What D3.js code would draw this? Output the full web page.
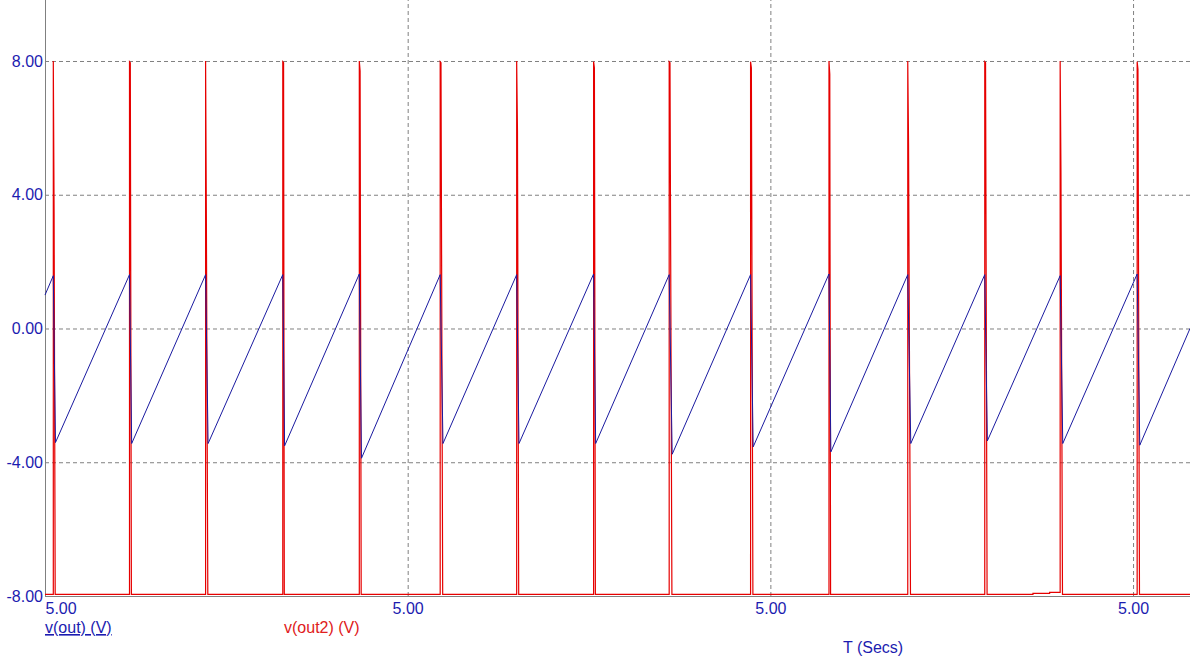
<!DOCTYPE html>
<html>
<head>
<meta charset="utf-8">
<script src="https://cdn.jsdelivr.net/npm/d3@7"></script>
<style>
  body { margin: 0; background: #fff; }
  svg { display: block; font-family: "Liberation Sans", Arial, sans-serif; }
</style>
</head>
<body>
<svg id="chart"></svg>
<script>
// axis ticks
var xTicks = [5.000, 5.001, 5.002, 5.003];
var yTicks = [-8, -4, 0, 4, 8];

// v(out) : sawtooth, top of each ramp then the restart point
var rampStart = [5.0, 1.0];
var rampTopT = [5.0000229, 5.0002330, 5.0004428, 5.0006556, 5.0008666, 5.0010896, 5.0013005, 5.0015126,
                5.0017210, 5.0019454, 5.0021616, 5.0023788, 5.0025911, 5.0027990, 5.0030113];
var rampTopV = [1.58, 1.61, 1.61, 1.61, 1.63, 1.61, 1.61, 1.63, 1.61, 1.61, 1.63, 1.61, 1.61, 1.58, 1.63];
var rampLowT = [5.0000289, 5.0002390, 5.0004497, 5.0006606, 5.0008726, 5.0010973, 5.0013069, 5.0015183,
                5.0017293, 5.0019526, 5.0021668, 5.0023871, 5.0025983, 5.0028062, 5.0030185];
var rampLowV = [-3.41, -3.44, -3.44, -3.51, -3.88, -3.44, -3.44, -3.44, -3.76, -3.54, -3.69, -3.44, -3.36, -3.44, -3.49];
var rampEnd = [5.003157, 0.0];

// v(out2) : narrow pulses from the low rail
var base = -7.95;
var spikeRise = [5.0000229, 5.0002330, 5.0004428, 5.0006556, 5.0008666, 5.0010896, 5.0013005, 5.0015126,
                 5.0017210, 5.0019454, 5.0021616, 5.0023788, 5.0025911, 5.0027990, 5.0030113];
var spikePeak = [8.0, 7.98, 8.0, 7.98, 8.0, 7.98, 8.0, 7.98, 7.98, 7.98, 8.0, 8.0, 7.98, 8.0, 7.98];
var spikeKnee = [5.0000251, 5.0002352, 5.0004450, 5.0006578, 5.0008688, 5.0010918, 5.0013027, 5.0015148,
                 5.0017232, 5.0019476, 5.0021638, 5.0023810, 5.0025933, 5.0028012, 5.0030135];
var spikeMid = [3.43, 7.95, 3.1, 7.95, 7.7, 7.95, 5.9, 7.8, 7.95, 7.8, 7.6, 5.5, 7.95, 4.66, 7.75];
var spikeFall = [5.0000281, 5.0002382, 5.0004489, 5.0006598, 5.0008718, 5.0010965, 5.0013061, 5.0015175,
                 5.0017285, 5.0019518, 5.0021660, 5.0023863, 5.0025975, 5.0028054, 5.0030177];
// small creep of the rail before the 14th pulse
var railStepT = [5.002724, 5.002724, 5.002770, 5.002770];
var railStepV = [-7.95, -7.92, -7.92, -7.89];

var width = 1190, height = 664;
var plotLeft = 45, plotRight = 1190, plotTop = 0, plotBottom = 596;

var svg = d3.select("#chart")
  .attr("width", width)
  .attr("height", height);

svg.append("rect").attr("width", width).attr("height", height).attr("fill", "#fff");

var x = d3.scaleLinear().domain([5.0, 5.003157]).range([plotLeft, plotRight]);
var y = d3.scaleLinear().domain([-8, 9.824]).range([plotBottom, plotTop]);

// plain hyphen for negatives, like the scope software
var fmt = d3.formatLocale({ decimal: ".", thousands: ",", grouping: [3], currency: ["", ""], minus: "-" }).format(".2f");
var blue = "#1c1cb0";

// y grid + labels
var yAxis = svg.append("g")
  .attr("transform", "translate(" + plotLeft + ",0)")
  .call(d3.axisLeft(y).tickValues(yTicks).tickSize(-(plotRight - plotLeft)).tickPadding(2).tickFormat(fmt));
yAxis.select(".domain").remove();
yAxis.selectAll("line")
  .attr("stroke", "#808080")
  .attr("stroke-dasharray", "4,3")
  .filter(function (d) { return d === -8; }).remove();
yAxis.selectAll("text")
  .attr("fill", blue)
  .style("font-size", "16px")
  .style("font-family", "Liberation Sans, Arial, sans-serif");

// x grid + labels
var xAxis = svg.append("g")
  .attr("transform", "translate(0," + plotBottom + ")")
  .call(d3.axisBottom(x).tickValues(xTicks).tickSize(-(plotBottom - plotTop)).tickPadding(7).tickFormat(fmt));
xAxis.select(".domain").remove();
xAxis.selectAll("line")
  .attr("stroke", "#808080")
  .attr("stroke-dasharray", "4,3")
  .filter(function (d) { return d === xTicks[0]; }).remove();
xAxis.selectAll("text")
  .attr("fill", blue)
  .style("font-size", "16px")
  .style("font-family", "Liberation Sans, Arial, sans-serif")
  .attr("text-anchor", function (d, i) { return i === 0 ? "start" : "middle"; });

// frame lines
svg.append("line").attr("x1", plotLeft + 0.5).attr("x2", plotLeft + 0.5).attr("y1", plotTop).attr("y2", plotBottom)
  .attr("stroke", "#808080");
svg.append("line").attr("x1", plotLeft).attr("x2", plotRight).attr("y1", plotBottom + 0.5).attr("y2", plotBottom + 0.5)
  .attr("stroke", "#808080");

// build traces
var redPts = [[5.0, base]];
spikeRise.forEach(function (t, i) {
  redPts.push([t, i === 13 ? railStepV[3] : base]);
  redPts.push([t, spikePeak[i]]);
  redPts.push([spikeKnee[i], spikeMid[i]]);
  redPts.push([spikeFall[i], base]);
});
railStepT.forEach(function (t, i) { redPts.push([t, railStepV[i]]); });
redPts.push([5.003157, base]);
redPts = redPts.map(function (p, i) { return { t: p[0], v: p[1], k: i }; })
  .sort(function (a, b) { return a.t - b.t || a.k - b.k; });

var bluePts = [{ t: rampStart[0], v: rampStart[1] }];
rampTopT.forEach(function (t, i) {
  bluePts.push({ t: t, v: rampTopV[i] });
  bluePts.push({ t: rampLowT[i], v: rampLowV[i] });
});
bluePts.push({ t: rampEnd[0], v: rampEnd[1] });

var line = d3.line()
  .x(function (d) { return x(d.t); })
  .y(function (d) { return y(d.v); });

svg.append("path")
  .datum(redPts)
  .attr("d", line)
  .attr("fill", "none")
  .attr("stroke", "#e60000")
  .attr("stroke-width", 1.2);

svg.append("path")
  .datum(bluePts)
  .attr("d", line)
  .attr("fill", "none")
  .attr("stroke", "#1a1aa0")
  .attr("stroke-width", 1);

// legend / axis title
svg.append("text").attr("x", 45).attr("y", 633)
  .attr("fill", blue).style("font-size", "16px")
  .style("text-decoration", "underline")
  .text("v(out) (V)");
svg.append("text").attr("x", 284).attr("y", 633)
  .attr("fill", "#e02020").style("font-size", "16px")
  .text("v(out2) (V)");
svg.append("text").attr("x", 843).attr("y", 653)
  .attr("fill", blue).style("font-size", "16px")
  .text("T (Secs)");
</script>
</body>
</html>
